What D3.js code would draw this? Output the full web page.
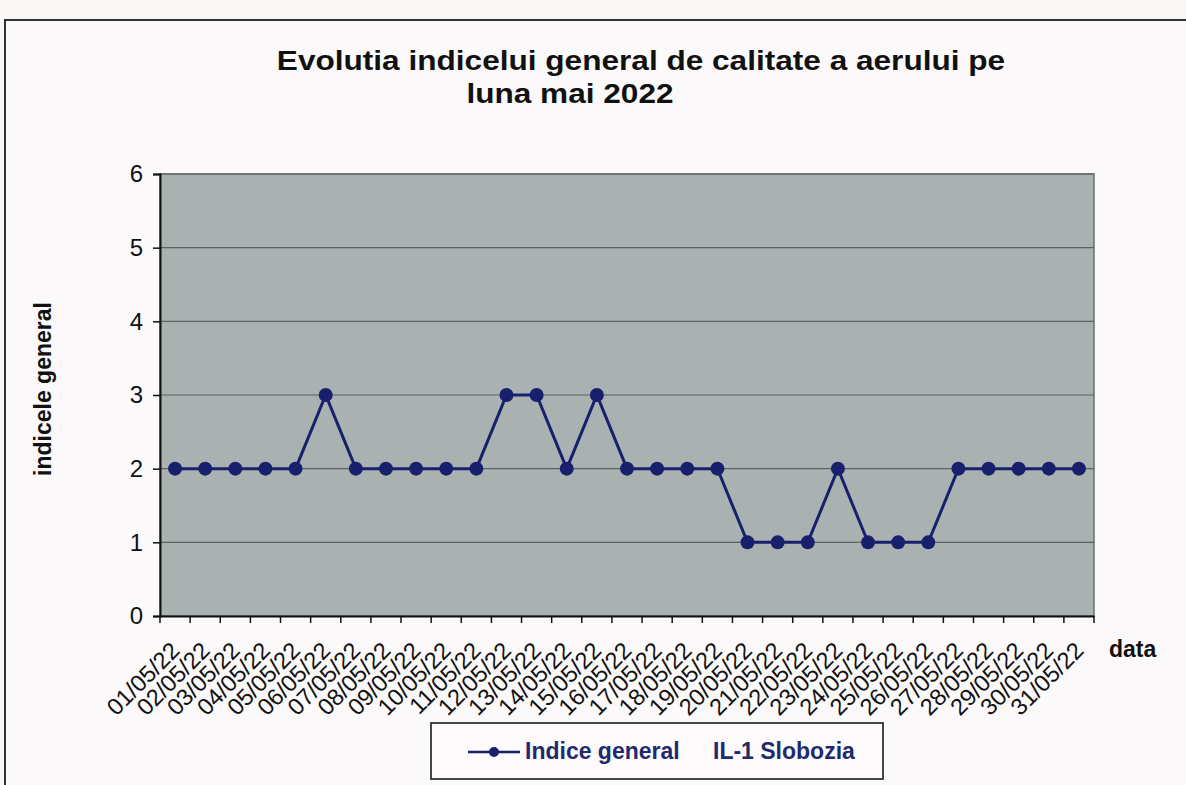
<!DOCTYPE html>
<html>
<head>
<meta charset="utf-8">
<script src="https://cdn.jsdelivr.net/npm/d3@7"></script>
<style>
  body { margin: 0; background: #faf7f7; }
  svg { display: block; font-family: "Liberation Sans", Arial, sans-serif; }
</style>
</head>
<body>
<svg id="chart"></svg>
<script>
var dates = ["01/05/22","02/05/22","03/05/22","04/05/22","05/05/22","06/05/22","07/05/22","08/05/22",
  "09/05/22","10/05/22","11/05/22","12/05/22","13/05/22","14/05/22","15/05/22","16/05/22",
  "17/05/22","18/05/22","19/05/22","20/05/22","21/05/22","22/05/22","23/05/22","24/05/22",
  "25/05/22","26/05/22","27/05/22","28/05/22","29/05/22","30/05/22","31/05/22"];
var indice = [2,2,2,2,2,3,2,2,2,2,2,3,3,2,3,2,2,2,2,1,1,1,2,1,1,1,2,2,2,2,2];
var yTicks = [0,1,2,3,4,5,6];
var titleLines = ["Evolutia indicelui general de calitate a aerului pe", "luna mai 2022"];

var width = 1186, height = 785;
var plot = {left: 160, right: 1094, top: 174, bottom: 616};
var navy = "#18206e";
var stretch = 1.17; // the scan is wider than tall

var svg = d3.select("#chart").attr("width", width).attr("height", height);

// outer chart frame
svg.append("rect")
  .attr("x", 5).attr("y", 20)
  .attr("width", 1200).attr("height", 800)
  .attr("fill", "#fbf9f9")
  .attr("stroke", "#333").attr("stroke-width", 2);

var x = d3.scaleBand()
  .domain(dates)
  .range([plot.left, plot.right]);

var y = d3.scaleLinear()
  .domain([0, 6])
  .range([plot.bottom, plot.top]);

// plot area
svg.append("rect")
  .attr("x", plot.left).attr("y", plot.top)
  .attr("width", plot.right - plot.left).attr("height", plot.bottom - plot.top)
  .attr("fill", "#a9b2b0")
  .attr("stroke", "#6b6f70").attr("stroke-width", 1.5);

// gridlines
svg.append("g")
  .selectAll("line")
  .data(yTicks.slice(1))
  .enter().append("line")
    .attr("x1", plot.left).attr("x2", plot.right)
    .attr("y1", function(d) { return y(d); })
    .attr("y2", function(d) { return y(d); })
    .attr("stroke", "#5c6263").attr("stroke-width", 1.2);

// y axis
var y_axis = svg.append("g")
  .attr("transform", "translate(" + plot.left + ",0)")
  .call(d3.axisLeft(y).tickValues(yTicks).tickFormat(d3.format("d")).tickSize(7).tickPadding(10));
y_axis.select(".domain").attr("stroke", "#111").attr("stroke-width", 2);
y_axis.selectAll(".tick line").attr("stroke", "#111").attr("stroke-width", 1.5);
y_axis.selectAll("text").attr("font-size", 24).attr("fill", "#111");

// x axis
var x_axis = svg.append("g")
  .attr("transform", "translate(0," + plot.bottom + ")")
  .call(d3.axisBottom(x).tickSize(0).tickSizeOuter(0));
x_axis.select(".domain").attr("stroke", "#111").attr("stroke-width", 2);
x_axis.selectAll("text")
  .attr("font-size", 23.5)
  .attr("fill", "#111")
  .attr("text-anchor", "end")
  .attr("y", null).attr("dy", null)
  .attr("transform", "translate(6,36) rotate(-45)");

// tick marks between categories
x_axis.append("g")
  .selectAll("line")
  .data(dates.concat([null]))
  .enter().append("line")
    .attr("x1", function(d) { return d === null ? plot.right : x(d); })
    .attr("x2", function(d) { return d === null ? plot.right : x(d); })
    .attr("y1", 0).attr("y2", 7)
    .attr("stroke", "#111").attr("stroke-width", 1.5);

// series line
var line = d3.line()
  .x(function(d, i) { return x(dates[i]) + x.bandwidth() / 2; })
  .y(function(d) { return y(d); });

svg.append("path")
  .datum(indice)
  .attr("d", line)
  .attr("fill", "none")
  .attr("stroke", navy)
  .attr("stroke-width", 3);

svg.append("g")
  .selectAll("circle")
  .data(indice)
  .enter().append("circle")
    .attr("cx", function(d, i) { return x(dates[i]) + x.bandwidth() / 2; })
    .attr("cy", function(d) { return y(d); })
    .attr("r", 7)
    .attr("fill", navy);

// titles
var titleX = [641, 570];
svg.append("g")
  .selectAll("text")
  .data(titleLines)
  .enter().append("text")
    .attr("transform", function(d, i) {
      return "translate(" + titleX[i] + "," + (70 + i * 33) + ") scale(" + stretch + ",1)";
    })
    .attr("text-anchor", "middle")
    .attr("font-size", 27)
    .attr("font-weight", "bold")
    .attr("fill", "#111")
    .text(function(d) { return d; });

svg.append("text")
  .attr("transform", "translate(51,389) rotate(-90)")
  .attr("text-anchor", "middle")
  .attr("font-size", 23)
  .attr("font-weight", "bold")
  .attr("fill", "#111")
  .text("indicele general");

svg.append("text")
  .attr("x", 1109).attr("y", 657)
  .attr("font-size", 23)
  .attr("font-weight", "bold")
  .attr("fill", "#111")
  .text("data");

// legend
var legend = svg.append("g").attr("transform", "translate(431,723)");
legend.append("rect")
  .attr("width", 452).attr("height", 56)
  .attr("fill", "#fcfafa")
  .attr("stroke", "#333").attr("stroke-width", 1.8);
legend.append("line")
  .attr("x1", 37).attr("x2", 89).attr("y1", 29).attr("y2", 29)
  .attr("stroke", navy).attr("stroke-width", 2.6);
legend.append("circle")
  .attr("cx", 63).attr("cy", 29).attr("r", 5)
  .attr("fill", navy);
legend.append("text")
  .attr("x", 94).attr("y", 36)
  .attr("font-size", 23)
  .attr("font-weight", "bold")
  .attr("fill", "#1f2a6e")
  .text("Indice general");
legend.append("text")
  .attr("x", 282).attr("y", 36)
  .attr("font-size", 23)
  .attr("font-weight", "bold")
  .attr("fill", "#1f2a6e")
  .text("IL-1 Slobozia");
</script>
</body>
</html>
